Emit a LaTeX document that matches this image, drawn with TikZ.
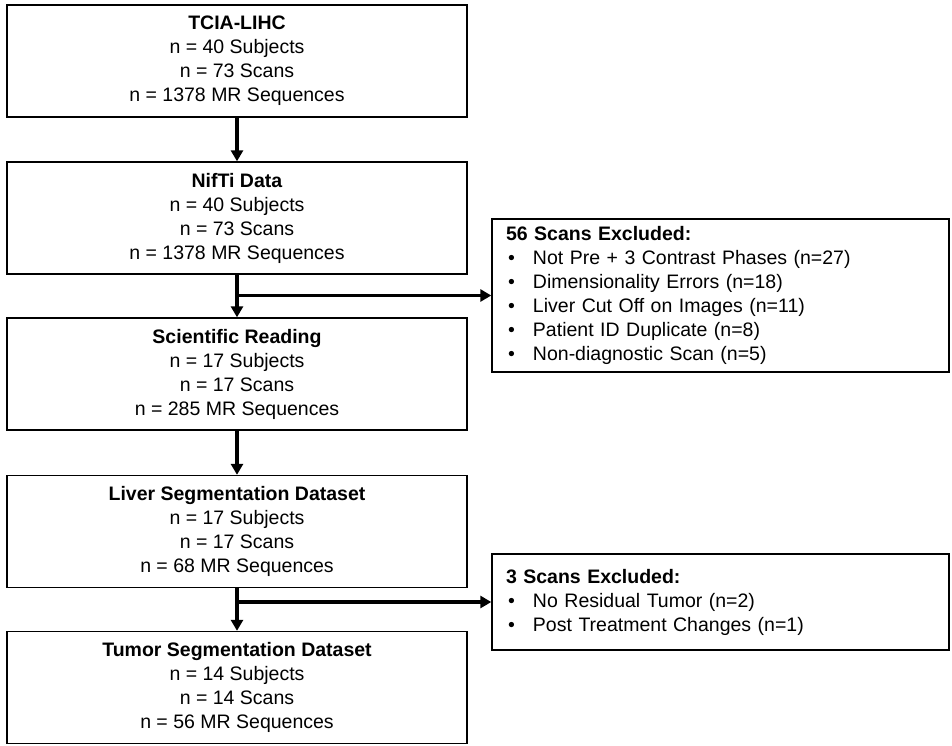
\documentclass[tikz,border=0pt]{standalone}
\usepackage{fontspec}
\setmainfont{Liberation Sans}
\usetikzlibrary{arrows.meta}

\tikzset{
	stagebox/.style={draw, line width=1.4pt, minimum width=460pt, minimum height=112pt,
		inner sep=0pt, align=center, font=\fontsize{19.5}{24}\selectfont},
	exclbox/.style={draw, line width=1.4pt, text width=429pt, inner xsep=14pt,
		inner ysep=0pt, align=left, font=\fontsize{19.5}{24}\selectfont},
	flow/.style={line width=3.5pt, -{Triangle[length=11pt,width=12pt]}}
}
\newcommand{\bitem}[1]{\\\hspace*{2pt}\makebox[25pt][l]{\textbullet}#1}

\begin{document}
\begin{tikzpicture}[x=1pt, y=-1pt]
		\useasboundingbox (0,0) rectangle (952,745);
		% main stages
		\node[stagebox] (tcia) at (237,61) {\textbf{TCIA-LIHC}\\n = 40 Subjects\\n = 73 Scans\\n = 1378 MR Sequences};
		\node[stagebox] (nifti) at (237,218) {\textbf{NifTi Data}\\n = 40 Subjects\\n = 73 Scans\\n = 1378 MR Sequences};
		\node[stagebox] (reading) at (237,374) {\textbf{Scientific Reading}\\n = 17 Subjects\\n = 17 Scans\\n = 285 MR Sequences};
		\node[stagebox] (liver) at (237,531.5) {\textbf{Liver Segmentation Dataset}\\n = 17 Subjects\\n = 17 Scans\\n = 68 MR Sequences};
		\node[stagebox] (tumor) at (237,687.5) {\textbf{Tumor Segmentation Dataset}\\n = 14 Subjects\\n = 14 Scans\\n = 56 MR Sequences};
		% exclusions
		\node[exclbox, minimum height=153pt] (excl1) at (720.5,295.5) {\textbf{56 Scans Excluded:}%
			\bitem{Not Pre + 3 Contrast Phases (n=27)}%
			\bitem{Dimensionality Errors (n=18)}%
			\bitem{Liver Cut Off on Images (n=11)}%
			\bitem{Patient ID Duplicate (n=8)}%
			\bitem{Non-diagnostic Scan (n=5)}};
		\node[exclbox, minimum height=96pt] (excl2) at (720.5,602) {\textbf{3 Scans Excluded:}%
			\bitem{No Residual Tumor (n=2)}%
			\bitem{Post Treatment Changes (n=1)}};
		% arrows
		\draw[flow] (tcia) -- (nifti);
		\draw[flow] (nifti) -- (reading);
		\draw[flow] (reading) -- (liver);
		\draw[flow] (liver) -- (tumor);
		\coordinate (split1) at (nifti.south |- excl1.west);
		\coordinate (split2) at (liver.south |- excl2.west);
		\draw[flow] ([xshift=-1.75pt]split1) -- (excl1.west);
		\draw[flow] ([xshift=-1.75pt]split2) -- (excl2.west);
	\end{tikzpicture}
\end{document}
